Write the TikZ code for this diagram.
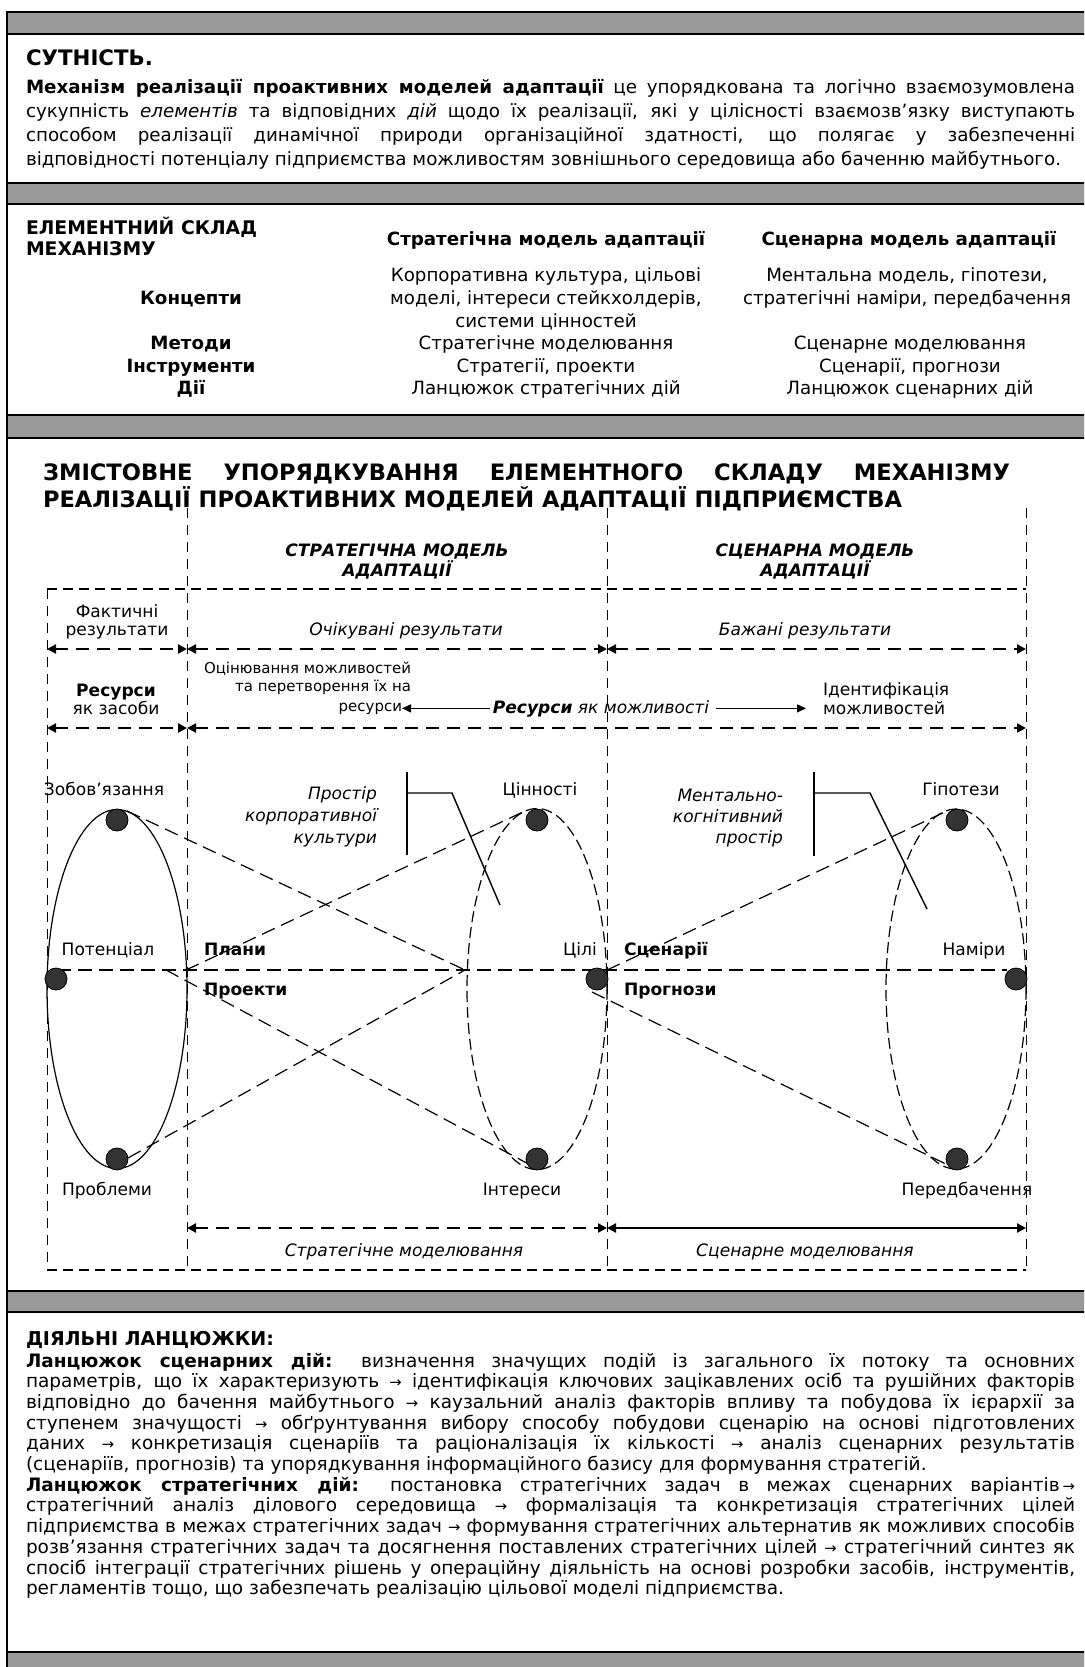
\documentclass[tikz,border=0pt]{standalone}
\usepackage{fontspec}
\setmainfont{DejaVu Sans}
\usepackage{graphicx}
\usetikzlibrary{arrows.meta}
\definecolor{bargray}{RGB}{153,153,153}
\definecolor{dotgray}{RGB}{51,51,51}
\newlength\calw
\newcommand\calib[3]{\settowidth\calw{\normalfont\fontsize{10pt}{12pt}\selectfont #3}\pgfmathsetmacro#1{10*#2/\calw}}
\newcommand\jl[1]{\makebox[\linewidth][s]{#1}\par}
\newcommand\arr{\scalebox{0.8}{→}}
\newcommand\flab{\fontsize{\szL pt}{9pt}\selectfont}
\newcommand\fsmall{\fontsize{\szS pt}{9pt}\selectfont}
\newcommand\fsecB{\fontsize{\szB pt}{11.5pt}\selectfont}
\begin{document}
\calib\szA{517.5}{відповідності потенціалу підприємства можливостям зовнішнього середовища або баченню майбутнього.}%
\calib\szB{164}{стратегічні наміри, передбачення}%
\calib\szD{379}{регламентів тощо, що забезпечать реалізацію цільової моделі підприємства.}%
\calib\szT{63.5}{\bfseries СУТНІСТЬ.}%
\calib\szTb{115.5}{\bfseries ЕЛЕМЕНТНИЙ СКЛАД}%
\calib\szTc{429.5}{\bfseries РЕАЛІЗАЦІЇ ПРОАКТИВНИХ МОДЕЛЕЙ АДАПТАЦІЇ ПІДПРИЄМСТВА}%
\calib\szTd{124}{\bfseries ДІЯЛЬНІ ЛАНЦЮЖКИ:}%
\calib\szL{65.3}{Передбачення}%
\calib\szS{103.5}{Оцінювання можливостей}%
\begin{tikzpicture}[x=0.5pt,y=-0.5pt,
  txt/.style={inner sep=0pt,outer sep=0pt},
  bar/.style={fill=bargray,draw=black,line width=1pt},
  tipA/.tip={Triangle[length=4.5pt,width=4.5pt]},
  rowarr/.style={line width=1.1pt,dash pattern=on 6.5pt off 4pt,tipA-tipA},
  solarr/.style={line width=1.1pt,tipA-tipA},
  thinarr/.style={line width=0.7pt,-{Triangle[length=4.5pt,width=4pt]}},
  vdash/.style={line width=0.5pt,dash pattern=on 5pt off 3.5pt},
  boxdash/.style={line width=0.7pt,dash pattern=on 5pt off 3pt},
  ddash/.style={line width=0.6pt,dash pattern=on 7pt off 3.5pt},
  edash/.style={line width=0.6pt,dash pattern=on 5.5pt off 2.5pt},
  dot/.style={circle,fill=dotgray,draw=black,line width=0.4pt,minimum size=11pt,inner sep=0pt},
  lab/.style={txt,anchor=base,font=\flab},
  sec/.style={txt,anchor=base,font=\fsecB},
  callout/.style={line width=0.7pt},
]
\useasboundingbox (0,0) rectangle (1084,1667);
\clip (0,0) rectangle (1084,1667);
\fill[white] (0,0) rectangle (1084,1667);

% frame and grey bars
\draw[line width=1pt] (7.3,11.7) -- (7.3,1700);
\draw[bar] (7.3,11.7) rectangle (1100,34.3);
\draw[bar] (7.3,183) rectangle (1100,204);
\draw[bar] (7.3,415) rectangle (1100,438);
\draw[bar] (7.3,1291) rectangle (1100,1312);
\draw[bar] (7.3,1652) rectangle (1100,1700);

% ---------- section 1
\node[txt,anchor=base west] (s1t) at (26,65) {\fontsize{\szT pt}{12pt}\selectfont\bfseries СУТНІСТЬ.};
\node[txt,anchor=base west] (s1b) at (26,93) {\parbox[t]{524.5pt}{\fontsize{\szA pt}{12pt}\selectfont
\jl{\textbf{Механізм реалізації проактивних моделей адаптації} це упорядкована та логічно взаємозумовлена}
\jl{сукупність \textit{елементів} та відповідних \textit{дій} щодо їх реалізації, які у цілісності взаємозв’язку виступають}
\jl{способом реалізації динамічної природи організаційної здатності, що полягає у забезпеченні}
відповідності потенціалу підприємства можливостям зовнішнього середовища або баченню майбутнього.}};

% ---------- section 2
\node[txt,anchor=base west] (s2h1) at (26,234) {\fontsize{\szTb pt}{12pt}\selectfont\bfseries ЕЛЕМЕНТНИЙ СКЛАД};
\node[txt,anchor=base west] (s2h2) at (26,255) {\fontsize{\szTb pt}{12pt}\selectfont\bfseries МЕХАНІЗМУ};
\node[sec] (s2c1) at (546,245) {\bfseries Стратегічна модель адаптації};
\node[sec] (s2c2) at (909,245) {\bfseries Сценарна модель адаптації};
\node[sec] (s2k) at (191,304) {\bfseries Концепти};
\node[sec] (s2ka) at (546,281) {Корпоративна культура, цільові};
\node[sec] (s2kb) at (546,304) {моделі, інтереси стейкхолдерів,};
\node[sec] (s2kc) at (546,327) {системи цінностей};
\node[sec] (s2kd) at (907,281) {Ментальна модель, гіпотези,};
\node[sec] (s2ke) at (907,304) {стратегічні наміри, передбачення};
\node[sec] (s2m) at (191,349) {\bfseries Методи};
\node[sec] (s2ma) at (546,349) {Стратегічне моделювання};
\node[sec] (s2mb) at (910,349) {Сценарне моделювання};
\node[sec] (s2i) at (191,372) {\bfseries Інструменти};
\node[sec] (s2ia) at (546,372) {Стратегії, проекти};
\node[sec] (s2ib) at (910,372) {Сценарії, прогнози};
\node[sec] (s2d) at (191,394) {\bfseries Дії};
\node[sec] (s2da) at (546,394) {Ланцюжок стратегічних дій};
\node[sec] (s2db) at (910,394) {Ланцюжок сценарних дій};

% ---------- section 3 title
\node[txt,anchor=base west] (s3t) at (43,480) {\parbox[t]{483.5pt}{\fontsize{\szTc pt}{13.5pt}\selectfont\bfseries
\jl{ЗМІСТОВНЕ УПОРЯДКУВАННЯ ЕЛЕМЕНТНОГО СКЛАДУ МЕХАНІЗМУ}
РЕАЛІЗАЦІЇ ПРОАКТИВНИХ МОДЕЛЕЙ АДАПТАЦІЇ ПІДПРИЄМСТВА}};

% dashed frame of the scheme
\coordinate (v1t) at (187,508); \coordinate (v1b) at (187,1270);
\coordinate (v2t) at (607,508); \coordinate (v2b) at (607,1270);
\coordinate (v3t) at (1026,508); \coordinate (v3b) at (1026,1270);
\coordinate (v0t) at (47,589); \coordinate (v0b) at (47,1270);
\draw[vdash] (v1t) -- (v1b);
\draw[vdash] (v2t) -- (v2b);
\draw[vdash] (v3t) -- (v3b);
\draw[vdash] (v0t) -- (v0b);
\draw[boxdash] (v0t) -- (1026,589);
\draw[boxdash] (v0b) -- (v3b);

% column headings
\node[lab] (sm1) at (397,556) {\bfseries\itshape СТРАТЕГІЧНА МОДЕЛЬ};
\node[lab] (sm2) at (397,576) {\bfseries\itshape АДАПТАЦІЇ};
\node[lab] (cm1) at (815,556) {\bfseries\itshape СЦЕНАРНА МОДЕЛЬ};
\node[lab] (cm2) at (815,576) {\bfseries\itshape АДАПТАЦІЇ};

% arrow rows
\coordinate (a1) at (47,649); \coordinate (a2) at (187,649);
\coordinate (a3) at (607,649); \coordinate (a4) at (1026,649);
\draw[rowarr] (a1) -- (a2);
\draw[rowarr] (a2) -- (a3);
\draw[rowarr] (a3) -- (a4);
\coordinate (b1) at (47,728); \coordinate (b2) at (187,728); \coordinate (b4) at (1026,728);
\draw[rowarr] (b1) -- (b2);
\draw[rowarr] (b2) -- (b4);
\coordinate (c2) at (187,1228); \coordinate (c3) at (607,1228); \coordinate (c4) at (1026,1228);
\draw[rowarr] (c2) -- (c3);
\draw[solarr] (c3) -- (c4);

\node[lab] (fr1) at (117,617) {Фактичні};
\node[lab] (fr2) at (117,635) {результати};
\node[lab] (oc) at (406,635) {\itshape Очікувані результати};
\node[lab] (bz) at (805,635) {\itshape Бажані результати};
\node[lab] (rz1) at (116,696) {\bfseries Ресурси};
\node[lab] (rz2) at (116,714) {як засоби};
\node[txt,anchor=base east,font=\fsmall] (on1) at (411,673) {Оцінювання можливостей};
\node[txt,anchor=base east,font=\fsmall] (on2) at (411,691.5) {та перетворення їх на};
\node[txt,anchor=base east,font=\fsmall] (rs) at (402,711) {ресурси};
\node[lab] (rjm) at (601,713) {\bfseries\itshape Ресурси\mdseries\ як можливості};
\node[lab,anchor=base west] (id1) at (823,695) {Ідентифікація};
\node[lab,anchor=base west] (id2) at (823,714) {можливостей};
\coordinate (ar2e) at (806,707);
\draw[thinarr] ([xshift=-1.5pt]rjm.west) -- (rs.east |- rjm.west);
\draw[thinarr] ([xshift=3.5pt]rjm.east) -- (ar2e |- rjm.east);

% ellipses
\draw[line width=0.6pt] (117,989) ellipse [x radius=70,y radius=179.5];
\draw[edash] (537,989) ellipse [x radius=70,y radius=180.5];
\draw[edash] (956,989) ellipse [x radius=70,y radius=180];

% connecting dashed lines
\coordinate (eLt) at (127,811); \coordinate (eLb) at (110,1168);
\coordinate (xm) at (465,970);
\coordinate (xl1) at (186,970); \coordinate (xl2) at (166,970);
\coordinate (eMt) at (525,811); \coordinate (eMb) at (536,1168);
\coordinate (hL) at (57,970); \coordinate (hR) at (1007,970);
\coordinate (xr1) at (607,970); \coordinate (eRt) at (947,811);
\coordinate (xr2) at (592,992); \coordinate (eRb) at (952,1167);
\draw[ddash] (eLt) -- (xm);
\draw[ddash] (eLb) -- (xm);
\draw[ddash] (xl1) -- (eMt);
\draw[ddash] (xl2) -- (eMb);
\draw[ddash] (hL) -- (hR);
\draw[ddash] (xr1) -- (eRt);
\draw[ddash] (xr2) -- (eRb);

% dots
\node[dot] (dLt) at (117,820) {};
\node[dot] (dLm) at (56,979) {};
\node[dot] (dLb) at (117,1159) {};
\node[dot] (dMt) at (537,820) {};
\node[dot] (dMr) at (597,979) {};
\node[dot] (dMb) at (537,1159) {};
\node[dot] (dRt) at (957,820) {};
\node[dot] (dRr) at (1016,979) {};
\node[dot] (dRb) at (957,1159) {};

% callouts
\coordinate (k1a) at (407,772); \coordinate (k1b) at (407,855);
\coordinate (k1c) at (407,793); \coordinate (k1d) at (452,793); \coordinate (k1e) at (500,905);
\draw[callout] (k1a) -- (k1b);
\draw[callout] (k1c) -- (k1d) -- (k1e);
\coordinate (k2a) at (814,772); \coordinate (k2b) at (814,856);
\coordinate (k2c) at (814,793); \coordinate (k2d) at (870,793); \coordinate (k2e) at (927,909);
\draw[callout] (k2a) -- (k2b);
\draw[callout] (k2c) -- (k2d) -- (k2e);
\node[txt,anchor=base east] (pk) at (377,799) {\parbox[t]{150pt}{\raggedleft\fontsize{\szL pt}{11pt}\selectfont\itshape Простір\\корпоративної\\культури}};
\node[txt,anchor=base east] (mk) at (783,801) {\parbox[t]{150pt}{\raggedleft\fontsize{\szL pt}{10.6pt}\selectfont\itshape Ментально-\\когнітивний\\простір}};

% point labels
\node[lab] (lz) at (104,795) {Зобов’язання};
\node[lab] (lc) at (540,795) {Цінності};
\node[lab] (lg) at (961,795) {Гіпотези};
\node[lab] (lp) at (108,955) {Потенціал};
\node[lab] (lci) at (580,955) {Цілі};
\node[lab] (ln) at (974,955) {Наміри};
\node[lab] (lpr) at (107,1195) {Проблеми};
\node[lab] (li) at (522,1195) {Інтереси};
\node[lab] (lpe) at (967,1195) {Передбачення};
\node[lab,anchor=base west] (pl) at (204,955) {\bfseries Плани};
\node[lab,anchor=base west] (pe) at (204,995) {\bfseries Проекти};
\node[lab,anchor=base west] (sc) at (624,955) {\bfseries Сценарії};
\node[lab,anchor=base west] (pg) at (624,995) {\bfseries Прогнози};
\node[lab] (smod) at (404,1256) {\itshape Стратегічне моделювання};
\node[lab] (cmod) at (805,1256) {\itshape Сценарне моделювання};

% ---------- section 4
\node[txt,anchor=base west] (s4t) at (26,1345) {\fontsize{\szTd pt}{12pt}\selectfont\bfseries ДІЯЛЬНІ ЛАНЦЮЖКИ:};
\node[txt,anchor=base west] (s4b) at (26,1367) {\parbox[t]{524.5pt}{\fontsize{\szD pt}{10.35pt}\selectfont
\jl{\textbf{Ланцюжок сценарних дій:} визначення значущих подій із загального їх потоку та основних}
\jl{параметрів, що їх характеризують \arr{} ідентифікація ключових зацікавлених осіб та рушійних факторів}
\jl{відповідно до бачення майбутнього \arr{} каузальний аналіз факторів впливу та побудова їх ієрархії за}
\jl{ступенем значущості \arr{} обґрунтування вибору способу побудови сценарію на основі підготовлених}
\jl{даних \arr{} конкретизація сценаріїв та раціоналізація їх кількості \arr{} аналіз сценарних результатів}
(сценаріїв, прогнозів) та упорядкування інформаційного базису для формування стратегій.\par
\jl{\textbf{Ланцюжок стратегічних дій:} постановка стратегічних задач в межах сценарних варіантів\kern1.5pt\arr}
\jl{стратегічний аналіз ділового середовища \arr{} формалізація та конкретизація стратегічних цілей}
\jl{підприємства в межах стратегічних задач \arr{} формування стратегічних альтернатив як можливих способів}
\jl{розв’язання стратегічних задач та досягнення поставлених стратегічних цілей \arr{} стратегічний синтез як}
\jl{спосіб інтеграції стратегічних рішень у операційну діяльність на основі розробки засобів, інструментів,}
регламентів тощо, що забезпечать реалізацію цільової моделі підприємства.}};
\end{tikzpicture}
\end{document}
